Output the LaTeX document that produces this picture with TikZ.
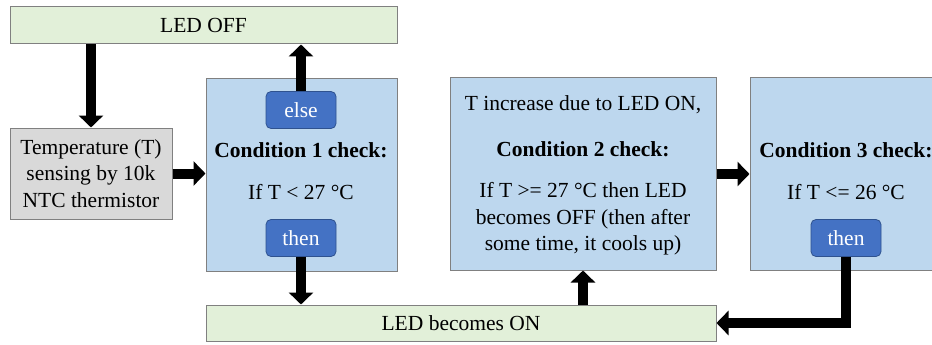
\documentclass[tikz,border=0pt]{standalone}
\usepackage{fontspec}
\usetikzlibrary{arrows.meta}
\definecolor{grn}{HTML}{E2F0D9}
\definecolor{blu}{HTML}{BDD7EE}
\definecolor{gry}{HTML}{D9D9D9}
\definecolor{btn}{HTML}{4472C4}
\definecolor{btnedge}{HTML}{2F528F}
\definecolor{edge}{HTML}{808080}
\newcommand{\boldserif}{\fontspec{Liberation Serif}\bfseries}
\begin{document}
\begin{tikzpicture}[x=1pt,y=-1pt,
  font=\fontsize{21.5}{26.5}\selectfont\fontspec{Liberation Serif},
  box/.style={draw=edge, line width=1pt, inner sep=0pt},
  greenbox/.style={box, fill=grn},
  bluebox/.style={box, fill=blu},
  graybox/.style={box, fill=gry, align=center},
  button/.style={draw=btnedge, line width=0.8pt, fill=btn, rounded corners=5pt,
     text=white, minimum width=70pt, minimum height=37pt, inner sep=0pt},
  txt/.style={inner sep=0pt, align=center},
  arr/.style={line width=10pt, line join=miter, -{Triangle[width=24pt,length=12pt]}}]
\useasboundingbox (0,0) rectangle (932,345);
% boxes
\node[greenbox, minimum width=387pt, minimum height=37pt] (ledoff) at (203.5,25.5) {LED OFF};
\node[graybox, minimum width=162pt, minimum height=91pt] (temp) at (91,173.5)
  {Temperature (T)\\sensing by 10k\\NTC thermistor};
\node[bluebox, minimum width=191pt, minimum height=192pt] (cond1) at (301.5,175) {};
\node[greenbox, minimum width=510pt, minimum height=36pt] (ledon) at (461,323) {LED becomes ON};
\node[bluebox, minimum width=266pt, minimum height=192pt] (cond2) at (583,174) {};
\node[bluebox, minimum width=192pt, minimum height=192pt] (cond3) at (846,174) {};
% buttons
\node[button] (else) at (301,110) {else};
\node[button] (then1) at (301,238) {then};
\node[button] (then3) at (846,238) {then};
% texts
\node[txt] (c1a) at (301,150) {\boldserif Condition 1 check:};
\node[txt] (c1b) at (301,192) {If T < 27 °C};
\node[txt] (c2a) at (583,105) {T increase due to LED ON,};
\node[txt] (c2b) at (583,149) {\boldserif Condition 2 check:};
\node[txt] (c2c) at (583,219) {If T >= 27 °C then LED\\becomes OFF (then after\\some time, it cools up)};
\node[txt] (c3a) at (846,150) {\boldserif Condition 3 check:};
\node[txt] (c3b) at (846,192) {If T <= 26 °C};
% arrows
\draw[arr] (temp.north |- ledoff.south) -- (temp.north);
\draw[arr] (temp.east) -- (temp.east -| cond1.west);
\draw[arr] (else.north) -- (else.north |- ledoff.south);
\draw[arr] (then1.south) -- (then1.south |- ledon.north);
\draw[arr] (cond2.south |- ledon.north) -- (cond2.south);
\draw[arr] (cond2.east) -- (cond3.west);
\draw[arr] (then3.south) |- (ledon.east);
\end{tikzpicture}
\end{document}
